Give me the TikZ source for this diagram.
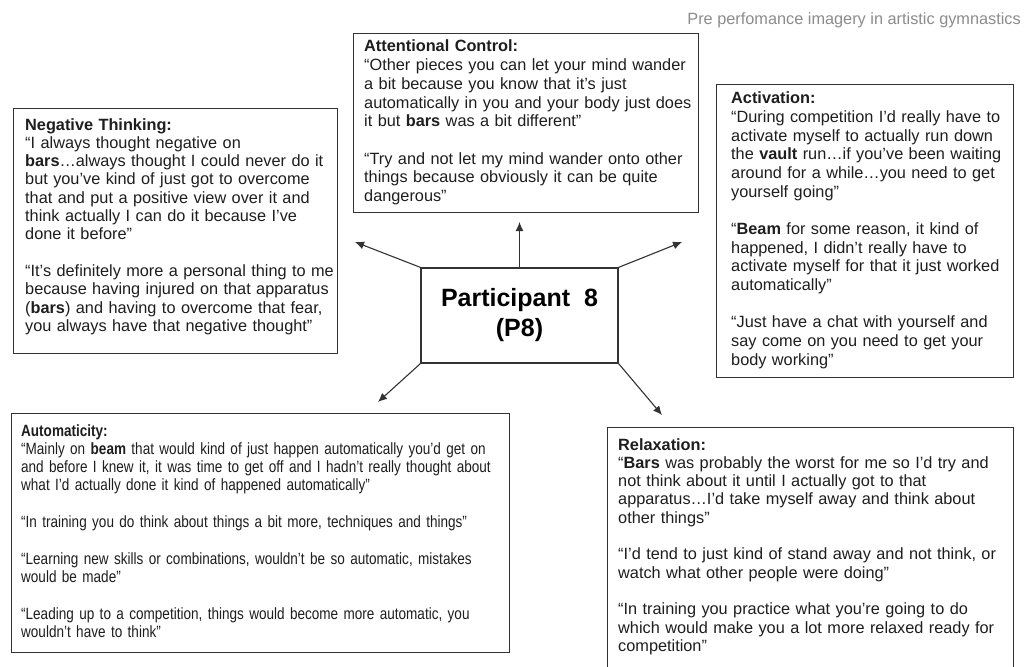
\documentclass[tikz,border=0pt]{standalone}
\usepackage{fontspec}
\setmainfont{Liberation Sans}
\newfontfamily\narrowfont[FakeStretch=0.83]{Liberation Sans}
\usetikzlibrary{arrows.meta,positioning,calc}
\definecolor{ink}{HTML}{1E1E1E}
\definecolor{frame}{HTML}{333333}
\definecolor{mute}{HTML}{8C8C8C}

\begin{document}
\begin{tikzpicture}[x=1pt,y=-1pt,
  panel/.style={draw=frame, line width=1.3pt, fill=white, anchor=north west, inner sep=0pt},
  quote/.style={anchor=base west, inner sep=0pt, align=left, text=ink, font=\fontsize{16.3}{18.3}\selectfont},
  >={Latex[length=9pt,width=8pt]}]
\fill[white] (0,0) rectangle (1027,666);
\clip (0,0) rectangle (1027,666);
\node[anchor=base east,inner sep=0pt,text=mute,font=\fontsize{16.3}{18}\selectfont] (title) at (1021,25) {Pre perfomance imagery in artistic gymnastics};
% theme boxes
\foreach \n/\x/\y/\w/\h in {att/353/33/345/179, neg/13/108/324/245, act/716/84/297/293, aut/11/413/498/239, rel/607/427/406/260}
  \node[panel, minimum width=\w, minimum height=\h] (\n) at (\x,\y) {};
\node[panel, anchor=center, minimum width=197, minimum height=95, align=center, font=\fontsize{25}{30}\selectfont\bfseries] (p8) at (519.5,315.5) {Participant~~8\\(P8)};
% quotes
\node[quote, text width=340, font=\fontsize{16.3}{18.7}\selectfont] (attT) at ($(att.north west)+(11,19)$) {\textbf{Attentional Control:}\\
“Other pieces you can let your mind wander\\
a bit because you know that it’s just\\
automatically in you and your body just does\\
it but \textbf{bars} was a bit different”\\[18.7pt]
“Try and not let my mind wander onto other\\
things because obviously it can be quite\\
dangerous”};
\node[quote, text width=320] (negT) at ($(neg.north west)+(12,22)$) {\textbf{Negative Thinking:}\\
“I always thought negative on\\
\textbf{bars}…always thought I could never do it\\
but you’ve kind of just got to overcome\\
that and put a positive view over it and\\
think actually I can do it because I’ve\\
done it before”\\[18.3pt]
“It’s definitely more a personal thing to me\\
because having injured on that apparatus\\
(\textbf{bars}) and having to overcome that fear,\\
you always have that negative thought”};
\node[quote, text width=290, font=\fontsize{16.3}{18.65}\selectfont] (actT) at ($(act.north west)+(15,20)$) {\textbf{Activation:}\\
“During competition I’d really have to\\
activate myself to actually run down\\
the \textbf{vault} run…if you’ve been waiting\\
around for a while…you need to get\\
yourself going”\\[18.65pt]
“\textbf{Beam} for some reason, it kind of\\
happened, I didn’t really have to\\
activate myself for that it just worked\\
automatically”\\[18.65pt]
“Just have a chat with yourself and\\
say come on you need to get your\\
body working”};
\node[quote, text width=495, font=\narrowfont\fontsize{16.3}{18.3}\selectfont] (autT) at ($(aut.north west)+(10,23)$) {\textbf{Automaticity:}\\
“Mainly on \textbf{beam} that would kind of just happen automatically you’d get on\\
and before I knew it, it was time to get off and I hadn’t really thought about\\
what I’d actually done it kind of happened automatically”\\[18.3pt]
“In training you do think about things a bit more, techniques and things”\\[18.3pt]
“Learning new skills or combinations, wouldn’t be so automatic, mistakes\\
would be made”\\[18.3pt]
“Leading up to a competition, things would become more automatic, you\\
wouldn’t have to think”};
\node[quote, text width=400] (relT) at ($(rel.north west)+(11,23)$) {\textbf{Relaxation:}\\
“\textbf{Bars} was probably the worst for me so I’d try and\\
not think about it until I actually got to that\\
apparatus…I’d take myself away and think about\\
other things”\\[18.3pt]
“I’d tend to just kind of stand away and not think, or\\
watch what other people were doing”\\[18.3pt]
“In training you practice what you’re going to do\\
which would make you a lot more relaxed ready for\\
competition”};
% arrows out of the centre
\coordinate (tipAtt) at (519.5,222);
\coordinate (tipNeg) at (355,242);
\coordinate (tipAct) at (682,242);
\coordinate (tipAut) at (378,402);
\coordinate (tipRel) at (662,415);
\foreach \s/\t in {north/tipAtt, north west/tipNeg, north east/tipAct, south west/tipAut, south east/tipRel}
  \draw[->, frame, line width=1.1pt] (p8.\s) -- (\t);
\end{tikzpicture}
\end{document}
